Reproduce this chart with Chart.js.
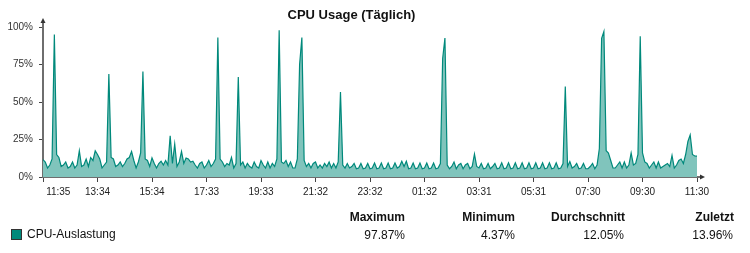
<!DOCTYPE html>
<html>
<head>
<meta charset="utf-8">
<script src="https://cdn.jsdelivr.net/npm/chart.js@4"></script>
<style>
  body { margin: 0; background: #fff; }
  #wrap { position: relative; width: 750px; height: 253px; font-family: "Liberation Sans", Arial, sans-serif; color: #111; }
  #wrap canvas { position: absolute; left: 0; top: 0; }
  .t { position: absolute; font-size: 12px; line-height: 14px; white-space: nowrap; }
  .title { left: 0; width: 703px; top: 8px; text-align: center; font-size: 13px; font-weight: bold; }
  .head { top: 210px; font-weight: bold; }
  .val { top: 228px; }
  .swatch { position: absolute; left: 11px; top: 229px; width: 9px; height: 9px; background: #00897b; border: 1px solid #333; }
</style>
</head>
<body>
<div id="wrap">
  <canvas id="chart" width="750" height="253"></canvas>
  <div class="t title">CPU Usage (Täglich)</div>
  <div class="swatch"></div>
  <div class="t" style="left:27px; top:227px;">CPU-Auslastung</div>
  <div class="t head" style="right:345px;">Maximum</div>
  <div class="t head" style="right:235px;">Minimum</div>
  <div class="t head" style="right:125px;">Durchschnitt</div>
  <div class="t head" style="right:16px;">Zuletzt</div>
  <div class="t val" style="right:345px;">97.87%</div>
  <div class="t val" style="right:235px;">4.37%</div>
  <div class="t val" style="right:126px;">12.05%</div>
  <div class="t val" style="right:17px;">13.96%</div>
</div>
<script>
// x axis labels, one every 24 samples (5 min samples, ~2 h)
const tickLabels = ['11:35', '13:34', '15:34', '17:33', '19:33', '21:32', '23:32',
  '01:32', '03:31', '05:31', '07:30', '09:30', '11:30'];

// CPU load in %, one block per 2 hours
const block0 = [11.5, 10, 6, 8, 12, 95, 15, 13, 7, 8, 10, 6, 7, 10, 6, 8, 17.5, 7, 8, 12, 7, 13, 11, 17.5];
const block1 = [15, 12, 6, 8, 10, 68.7, 13, 12, 7, 8, 10, 7, 9, 12, 13, 17, 11, 6, 10, 16, 70.4, 12, 11, 7];
const block2 = [12.7, 9, 6, 9, 10.5, 8, 11, 8, 27.5, 9, 22, 7, 10, 17, 9, 12.7, 12, 10, 10.5, 8, 6, 9, 10, 6];
const block3 = [8, 11, 7, 9, 12, 93, 12, 10, 7, 9, 8, 13, 6, 9, 66.7, 8, 10, 6, 9, 7, 6, 10, 7, 6];
const block4 = [11, 8, 6, 10, 6, 9, 7, 12, 97.87, 10, 9, 11, 7, 10, 6, 6, 12, 75, 93, 11, 7, 9, 6, 9];
const block5 = [10, 6, 8, 6, 9, 7, 10, 6, 9, 6, 10, 56.7, 8, 6, 9, 6, 7, 9, 5.5, 6, 9, 5.5, 6, 9];
const block6 = [5.5, 6, 9.3, 5.5, 6, 9.3, 5.5, 6, 9.3, 5.5, 6, 9.3, 6, 7, 10.5, 7, 10.5, 5.5, 6, 9.3, 5.5, 6, 9.3, 5.5];
const block7 = [6, 9.3, 5.5, 6, 9.3, 5.5, 6, 9, 79, 92.7, 8, 5.5, 7, 10, 5.5, 8, 9, 5.5, 8, 9, 5.5, 7, 15.3, 7];
const block8 = [6, 9, 5.5, 6, 9, 5.5, 7, 9, 5.5, 6, 9.5, 5.5, 6, 9.5, 5.5, 6, 9.5, 5.5, 6, 9.5, 5.5, 6, 9.5, 5.5];
const block9 = [6, 9.5, 5.5, 6, 9.5, 5.5, 6, 9.5, 5.5, 6, 9.5, 5.5, 6, 9, 60.4, 7, 10.3, 6, 7, 9, 5.5, 6, 9, 5.5];
const block10 = [5.5, 7, 9, 5.5, 8, 19, 92.5, 97, 17.5, 16, 11, 6, 6, 8, 10, 6, 10, 6, 8, 16, 8, 9, 15, 93.8];
const block11 = [16, 10, 9, 6, 8, 10, 6, 10, 6, 7, 8, 9, 7, 14.4, 6, 8, 11, 12, 9, 15, 23.7, 28, 15, 14, 13.96];

const cpuValues = [].concat(block0, block1, block2, block3, block4, block5,
  block6, block7, block8, block9, block10, block11);

const axisColor = '#6e6e6e';

// little arrow heads at the ends of both axes
const axisArrows = {
  id: 'axisArrows',
  afterDraw(chart) {
    const { ctx, chartArea: a } = chart;
    ctx.save();
    ctx.strokeStyle = axisColor;
    ctx.fillStyle = '#333';
    ctx.lineWidth = 2;
    ctx.beginPath();
    ctx.moveTo(a.left, a.top);
    ctx.lineTo(a.left, a.top - 5);
    ctx.moveTo(a.right, a.bottom);
    ctx.lineTo(a.right + 4, a.bottom);
    ctx.stroke();
    ctx.beginPath();
    ctx.moveTo(a.left, a.top - 9);
    ctx.lineTo(a.left - 2.5, a.top - 4);
    ctx.lineTo(a.left + 2.5, a.top - 4);
    ctx.fill();
    ctx.beginPath();
    ctx.moveTo(a.right + 8, a.bottom);
    ctx.lineTo(a.right + 3, a.bottom - 2.5);
    ctx.lineTo(a.right + 3, a.bottom + 2.5);
    ctx.fill();
    ctx.restore();
  }
};

const tickFont = { family: '"Liberation Sans", Arial, sans-serif', size: 10 };

new Chart(document.getElementById('chart'), {
  type: 'line',
  data: {
    datasets: [{
      label: 'CPU-Auslastung',
      data: cpuValues.map((v, i) => ({ x: i, y: v })),
      borderColor: '#00897b',
      backgroundColor: '#80c4bc',
      borderWidth: 1.2,
      fill: 'origin',
      pointRadius: 0,
      tension: 0,
    }],
  },
  options: {
    responsive: false,
    animation: false,
    devicePixelRatio: 1,
    layout: { padding: { top: 27, right: 53, bottom: 0, left: 0 } },
    plugins: { legend: { display: false }, tooltip: { enabled: false } },
    scales: {
      x: {
        type: 'linear',
        min: 0,
        max: 288,
        border: { color: axisColor, width: 2 },
        grid: { drawOnChartArea: false, tickLength: 5, color: '#444' },
        ticks: {
          stepSize: 24,
          autoSkip: false,
          maxRotation: 0,
          padding: 4,
          color: '#222',
          font: tickFont,
          callback: (v) => {
            const lbl = tickLabels[v / 24];
            // first label sits a bit to the right of the origin
            return v === 0 ? '           ' + lbl : lbl;
          },
        },
        afterFit: (s) => { s.height = 76; s.paddingLeft = 0; s.paddingRight = 0; },
      },
      y: {
        min: 0,
        max: 100,
        border: { color: axisColor, width: 2 },
        grid: { drawOnChartArea: false, tickLength: 4, color: '#444' },
        ticks: {
          stepSize: 25,
          padding: 6,
          color: '#333',
          font: tickFont,
          callback: (v) => v + '%',
        },
        afterFit: (s) => { s.width = 43; s.paddingTop = 0; s.paddingBottom = 0; },
      },
    },
  },
  plugins: [axisArrows],
});
</script>
</body>
</html>
